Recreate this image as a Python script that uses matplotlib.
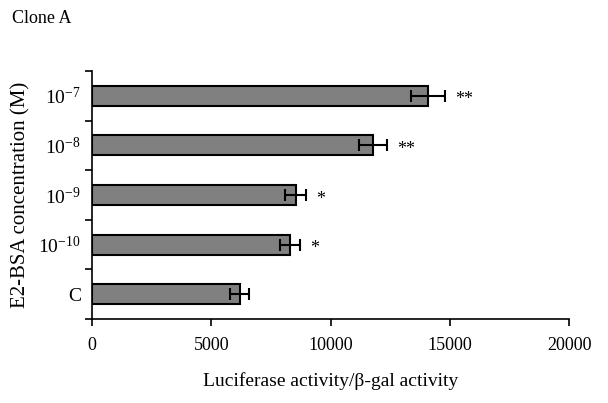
import matplotlib
matplotlib.use('Agg')
import matplotlib.pyplot as plt

plt.rcParams['font.family'] = ['Liberation Serif', 'DejaVu Serif']
plt.rcParams['mathtext.fontset'] = 'custom'
plt.rcParams['mathtext.rm'] = 'Liberation Serif'
plt.rcParams['mathtext.it'] = 'Liberation Serif'

# data, bottom to top
labels = ['C', r'$\mathrm{10^{-10}}$', r'$\mathrm{10^{-9}}$', r'$\mathrm{10^{-8}}$', r'$\mathrm{10^{-7}}$']
values = [6190, 8300, 8540, 11780, 14090]
errors = [400, 420, 440, 600, 710]
stars = ['', '*', '*', '**', '**']

fig = plt.figure(figsize=(6.08, 4.03), dpi=100)
ax = fig.add_axes([0.1513, 0.2084, 0.7846, 0.6154])

pos = list(range(len(values)))
ax.barh(pos, values, height=0.4, color='#808080', edgecolor='black', linewidth=1.5)
ax.errorbar(values, pos, xerr=errors, fmt='none', ecolor='black', elinewidth=1.5,
            capsize=4, capthick=1.5)

for p, v, e, s in zip(pos, values, errors, stars):
    if s:
        ax.annotate(s, (v + e, p), xytext=(7, -3), textcoords='offset points',
                    ha='left', va='center', fontsize=13)

ax.set_xlim(0, 20000)
ax.set_ylim(-0.5, 4.5)
ax.set_xticks([0, 5000, 10000, 15000, 20000])
ax.set_xticklabels(['0', '5000', '10000', '15000', '20000'])
ax.set_yticks(pos)
ax.set_yticklabels(labels)
ax.set_yticks([-0.5, 0.5, 1.5, 2.5, 3.5, 4.5], minor=True)
ax.tick_params(axis='y', which='major', length=0, pad=8, labelsize=14)
ax.tick_params(axis='y', which='minor', length=5, width=1.2, direction='out')
ax.tick_params(axis='x', length=5, width=1.2, direction='out', labelsize=13, pad=8)

for sp in ['top', 'right']:
    ax.spines[sp].set_visible(False)
for sp in ['left', 'bottom']:
    ax.spines[sp].set_linewidth(1.2)

ax.set_xlabel('Luciferase activity/β-gal activity', fontsize=14, labelpad=13)
ax.set_ylabel('E2-BSA concentration (M)', fontsize=15, labelpad=6)

fig.text(0.02, 0.955, 'Clone A', fontsize=13, ha='left', va='center')

fig.savefig('out.png', dpi=100)
